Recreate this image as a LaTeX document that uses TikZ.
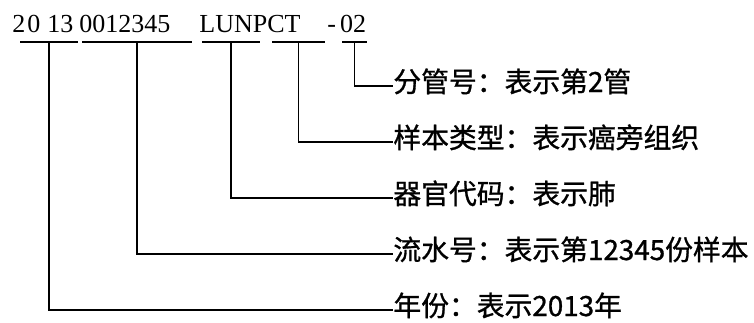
\documentclass[tikz,border=0pt]{standalone}
\usepackage{fontspec}
\setmainfont{Liberation Serif}
\newfontfamily\cjk[FakeBold=1]{Noto Sans CJK SC}
\usetikzlibrary{calc}

\begin{document}
\begin{tikzpicture}[x=0.5pt,y=-0.5pt,
    code/.style={anchor=base west,inner sep=0pt,font=\fontsize{13}{15}\selectfont},
    desc/.style={anchor=base west,inner sep=0pt,font=\cjk\fontsize{13.9}{16}\selectfont},
    wire/.style={line width=0.65pt}]
  \useasboundingbox (0,0) rectangle (754,322);

  % the sample code
  \node[code] (yearA) at (12,32) {2\kern1pt 0};
  \node[code] (yearB) at (47,32) {13};
  \node[code] (serial) at (79,32) {0012345};
  \node[code] (organ) at (199,32) {LUNPCT};
  \node[code] (tube) at (327,32) {-\kern2pt 02};

  \coordinate (yearL) at (20,42);   \coordinate (yearR) at (78,42);
  \coordinate (serialL) at (82,42); \coordinate (serialR) at (192,42);
  \coordinate (organL) at (202,42); \coordinate (organR) at (260,42);
  \coordinate (typeL) at (272,42);  \coordinate (typeR) at (325,42);
  \coordinate (tubeL) at (342,42);  \coordinate (tubeR) at (367,42);

  % what each part means
  \node[desc] (tubeText) at (393,92) {分管号：表示第2管};
  \node[desc] (typeText) at (393,148) {样本类型：表示癌旁组织};
  \node[desc] (organText) at (393,204) {器官代码：表示肺};
  \node[desc] (serialText) at (393,260) {流水号：表示第12345份样本};
  \node[desc] (yearText) at (393,316) {年份：表示2013年};

  \foreach \part in {year,serial,organ,type,tube} {
    \draw[wire] (\part L) -- (\part R);
    \draw[wire] ($ (\part L)!0.5!(\part R) $) |- ($ (\part Text.base west) + (0,-6) $);
  }
\end{tikzpicture}
\end{document}
